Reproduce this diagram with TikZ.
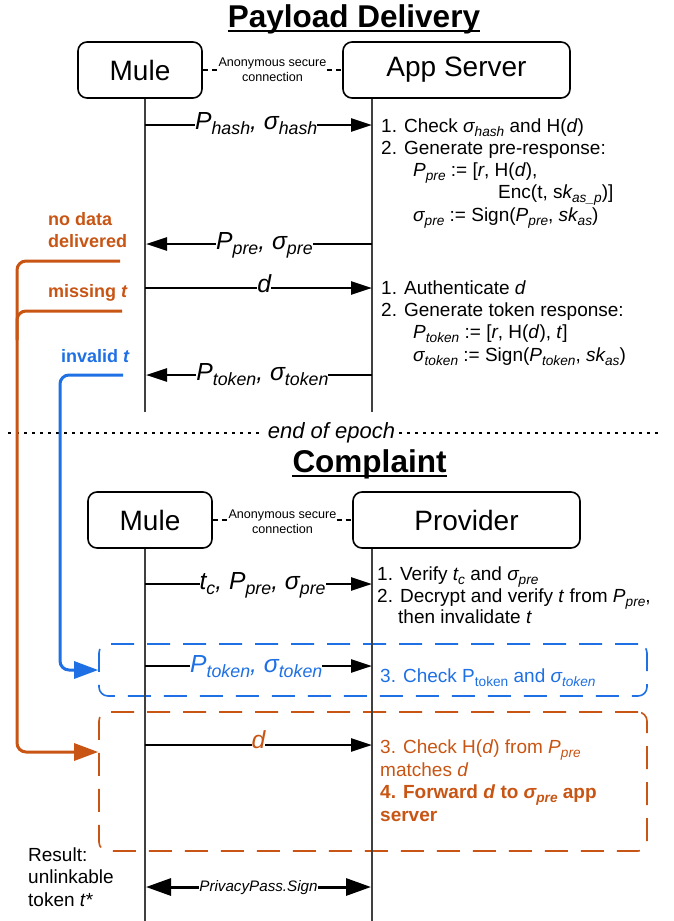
\documentclass[tikz,border=0pt]{standalone}
\usepackage{fontspec}
\setmainfont{Liberation Sans}
\usetikzlibrary{arrows.meta}
\makeatletter
% lowered, reduced-size subscript in the current font
\newcommand\lowr[1]{\raisebox{-0.22em}{\fontsize{\strip@pt\dimexpr0.72\dimexpr\f@size pt\relax\relax}{1}\selectfont #1}}
\makeatother
\newcommand\fsz[1]{\fontsize{#1}{#1}\selectfont}
\definecolor{rust}{RGB}{200,85,20}
\definecolor{azure}{RGB}{30,112,228}

\begin{document}
\begin{tikzpicture}[x=1pt,y=-1pt,
  actor/.style={draw, line width=1.6pt, rounded corners=9pt, minimum height=56pt, inner sep=0pt, font=\fsz{28}},
  conn/.style={align=center, inner sep=0pt, font=\fontsize{12.6}{15}\selectfont},
  linkline/.style={line width=1.5pt, dash pattern=on 5pt off 4pt},
  life/.style={line width=1.8pt, draw=black!75},
  msg/.style={line width=2.5pt, -{Triangle[length=21pt,width=13pt]}},
  lbl/.style={fill=white, inner sep=0pt, anchor=base, yshift=#1, font=\fsz{24.7}\itshape},
  lbl/.default=-5pt,
  txt/.style={anchor=base west, inner sep=0pt, font=\fsz{19}},
  side/.style={anchor=base west, inner sep=0pt, font=\fsz{18}\bfseries},
  title/.style={anchor=base, inner sep=0pt, font=\fsz{31.5}\bfseries},
  flow/.style={line width=3pt, rounded corners=9pt, -{Triangle[length=24pt,width=17pt]}},
  zone/.style={draw, line width=1.6pt, dash pattern=on 23pt off 13pt, rounded corners=9pt, minimum width=548pt, inner sep=0pt},
  dotline/.style={line width=2pt, dash pattern=on 3pt off 5pt},
]
\fill[white] (0,0) rectangle (673,921);
\useasboundingbox (0,0) rectangle (673,921);

% ---------------- Payload delivery ----------------
\node[title] (t1) at (354,27) {Payload Delivery};
\draw[line width=2pt] ([yshift=-3.5pt]t1.base west) -- ([yshift=-3.5pt]t1.base east);

\node[actor, minimum width=124pt] (mule1) at (140,70) {Mule};
\node[actor, minimum width=227pt] (app) at (456.5,70) {App Server};
\node[conn] (k1) at (272.5,69.5) {Anonymous secure\\connection};
\draw[linkline] (mule1.east) -- (k1.west |- mule1.east);
\draw[linkline] (k1.east |- app.west) -- (app.west);

\coordinate (lm1) at (145,412);
\coordinate (la1) at (372,412);
\draw[life] (mule1.south -| lm1) -- (lm1);
\draw[life] (app.south -| la1) -- (la1);

\coordinate (m1a) at (145,125);  \coordinate (m1b) at (372,125);
\coordinate (m2a) at (372,244);  \coordinate (m2b) at (146,244);
\coordinate (m3a) at (145,288);  \coordinate (m3b) at (372,288);
\coordinate (m4a) at (372,375);  \coordinate (m4b) at (146,375);

\draw[msg] (m1a) -- node[lbl=-4pt, pos=.49] (l1) {P\lowr{hash}, σ\lowr{hash}} (m1b);
\draw[msg] (m2a) -- node[lbl, pos=.476] (l2) {P\lowr{pre}, σ\lowr{pre}} (m2b);
\draw[msg] (m3a) -- node[lbl=-4pt, pos=.525] (l3) {d} (m3b);
\draw[msg] (m4a) -- node[lbl, pos=.485] (l4) {P\lowr{token}, σ\lowr{token}} (m4b);

\node[txt] (a1) at (381,132) {1. Check \textit{σ\lowr{hash}} and H(\textit{d})};
\node[txt] (a2) at (381,154) {2. Generate pre-response:};
\node[txt] (a3) at (413,176) {\textit{P\lowr{pre}} := [\textit{r}, H(\textit{d}),};
\node[txt] (a4) at (498,198) {Enc(t, s\textit{k\lowr{as\_p}})]};
\node[txt] (a5) at (413,221) {\textit{σ\lowr{pre}} := Sign(\textit{P\lowr{pre}}, \textit{sk\lowr{as}})};

\node[txt] (b1) at (381,294) {1. Authenticate \textit{d}};
\node[txt] (b2) at (381,316) {2. Generate token response:};
\node[txt] (b3) at (413,338) {\textit{P\lowr{token}} := [\textit{r}, H(\textit{d}), \textit{t}]};
\node[txt] (b4) at (413,361) {\textit{σ\lowr{token}} := Sign(\textit{P\lowr{token}}, \textit{sk\lowr{as}})};

\node[side, text=rust] (s1) at (48,225) {no data};
\node[side, text=rust] (s2) at (48,247) {delivered};
\node[side, text=rust] (s3) at (48,297) {missing \textit{t}};
\node[side, text=azure] (s4) at (61,362) {invalid \textit{t}};

% ---------------- epoch boundary ----------------
\node[anchor=base, inner xsep=4pt, inner ysep=0pt, font=\fsz{22}\itshape] (eoe) at (331.5,438) {end of epoch};
\coordinate (dl) at (8,433);
\coordinate (dr) at (658,433);
\draw[dotline] (dl) -- (eoe.west |- dl);
\draw[dotline] (eoe.east |- dr) -- (dr);

% ---------------- Complaint ----------------
\node[title] (t2) at (369.5,472) {Complaint};
\draw[line width=2pt] ([yshift=-3.5pt]t2.base west) -- ([yshift=-3.5pt]t2.base east);

\node[actor, minimum width=124pt] (mule2) at (150,520) {Mule};
\node[actor, minimum width=227pt] (prov) at (466.5,520) {Provider};
\node[conn] (k2) at (282.5,522) {Anonymous secure\\connection};
\draw[linkline] (mule2.east) -- (k2.west |- mule2.east);
\draw[linkline] (k2.east |- prov.west) -- (prov.west);

\node[zone, draw=azure, minimum height=52pt] (bz) at (373,670) {};
\node[zone, draw=rust, minimum height=139pt] (oz) at (373,781.5) {};

\coordinate (lm2) at (145,921);
\coordinate (lp2) at (372,921);
\draw[life] (mule2.south -| lm2) -- (lm2);
\draw[life] (prov.south -| lp2) -- (lp2);

\coordinate (c1a) at (145,584);  \coordinate (c1b) at (372,584);
\coordinate (c2a) at (145,666);  \coordinate (c2b) at (372,666);
\coordinate (c3a) at (145,745);  \coordinate (c3b) at (372,745);
\coordinate (ppa) at (146,887);  \coordinate (ppb) at (371,887);

\draw[msg] (c1a) -- node[lbl, pos=.518] (l5) {t\lowr{c}, P\lowr{pre}, σ\lowr{pre}} (c1b);
\draw[msg] (c2a) -- node[lbl=-6pt, pos=.49, text=azure] (l6) {P\lowr{token}, σ\lowr{token}} (c2b);
\draw[msg] (c3a) -- node[lbl=-3pt, pos=.5, text=rust] (l7) {d} (c3b);
\draw[line width=3pt, {Triangle[length=25pt,width=17pt]}-{Triangle[length=25pt,width=17pt]}]
  (ppa) -- node[lbl=-4pt, pos=.5, font=\fsz{15.2}\itshape] (l8) {PrivacyPass.Sign} (ppb);

\node[txt] (c1) at (377,580) {1. Verify \textit{t\lowr{c}} and \textit{σ\lowr{pre}}};
\node[txt] (c2) at (377,602) {2. Decrypt and verify \textit{t} from \textit{P\lowr{pre}},};
\node[txt] (c3) at (398,623) {then invalidate \textit{t}};

\node[txt, text=azure] (d1) at (380,682) {3. Check P\lowr{token} and \textit{σ\lowr{token}}};

\node[txt, text=rust] (e1) at (380,753) {3. Check H(\textit{d}) from \textit{P\lowr{pre}}};
\node[txt, text=rust] (e2) at (380,776) {matches \textit{d}};
\node[txt, text=rust, font=\fsz{19}\bfseries] (e3) at (380,798) {4. Forward \textit{d} to \textit{σ\lowr{pre}} app};
\node[txt, text=rust, font=\fsz{19}\bfseries] (e4) at (380,821) {server};

\node[txt] (r1) at (28,861) {Result:};
\node[txt] (r2) at (28,883) {unlinkable};
\node[txt] (r3) at (28,906) {token \textit{t}*};

% ---------------- fallback paths into the complaint ----------------
\coordinate (o1) at (120,261);
\coordinate (o2) at (122,311);
\coordinate (o3) at (17,340);
\coordinate (ov) at (17,752);
\draw[flow, color=rust] (o1) -| (ov) -- (oz.west |- ov);
\draw[line width=3pt, rounded corners=9pt, rust] (o2) -| (o3);

\coordinate (bl) at (123,375);
\coordinate (bv) at (60,670);
\draw[flow, color=azure] (bl) -| (bv) -- (bz.west);
\end{tikzpicture}
\end{document}
